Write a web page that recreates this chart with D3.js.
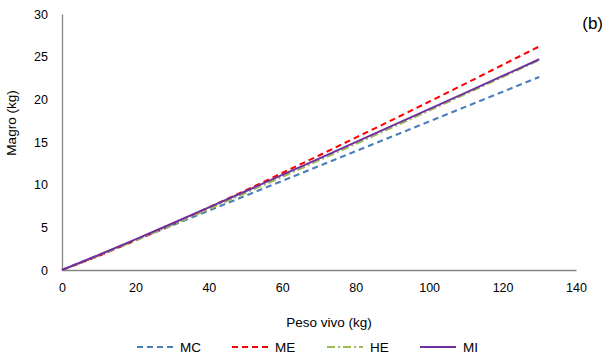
<!DOCTYPE html>
<html><head><meta charset="utf-8">
<script src="https://cdn.jsdelivr.net/npm/d3@7"></script>
<style>body{margin:0;background:#fff}svg{display:block;font-family:"Liberation Sans",Arial,sans-serif}</style>
</head><body><svg id="c" width="610" height="360"></svg>
<script>
const xValues = [0,10,20,30,40,50,60,70,80,90,100,110,120,130];
const MC = [0,1.74,3.48,5.22,6.96,8.70,10.44,12.18,13.92,15.66,17.40,19.14,20.88,22.62];
const ME = [0,1.64,3.47,5.38,7.33,9.33,11.37,13.42,15.51,17.60,19.72,21.86,24.03,26.20];
const HE = [0,1.66,3.45,5.27,7.13,9.02,10.92,12.84,14.77,16.71,18.67,20.64,22.61,24.60];
const MI = [0,1.76,3.59,5.45,7.34,9.23,11.14,13.06,14.99,16.92,18.85,20.79,22.74,24.70];
const xTicks = [0,20,40,60,80,100,120,140];
const yTicks = [0,5,10,15,20,25,30];
const seriesNames = ["MC","ME","HE","MI"];
const seriesColors = ["#4a7ebb","#ff0000","#9bbb59","#7030a0"];
const seriesDash = ["6,4","6,4","8,3,2,3",null];

const svg = d3.select("#c");
const x = d3.scaleLinear().domain([0,140]).range([62,576]);
const y = d3.scaleLinear().domain([0,30]).range([270,14]);

const xAxis = svg.append("g").attr("transform","translate(0,270)")
  .call(d3.axisBottom(x).tickValues(xTicks).tickSize(0).tickPadding(13));
const yAxis = svg.append("g").attr("transform","translate(62,0)")
  .call(d3.axisLeft(y).tickValues(yTicks).tickSize(0).tickPadding(14));
[xAxis,yAxis].forEach(a=>{
  a.select(".domain").attr("stroke","#868686").attr("stroke-width",1.3);
  a.selectAll("text").attr("font-size",12.5).attr("fill","#000").attr("font-family","Liberation Sans, Arial, sans-serif");
});

const data = [MC,ME,HE,MI];
const line = d3.line().x((d,i)=>x(xValues[i])).y(d=>y(d));
data.forEach((s,k)=>{
  svg.append("path").datum(s).attr("d",line).attr("fill","none")
    .attr("stroke",seriesColors[k]).attr("stroke-width",2)
    .attr("stroke-dasharray",seriesDash[k]);
});

svg.append("text").attr("x",329).attr("y",327).attr("text-anchor","middle")
  .attr("font-size",13.5).text("Peso vivo (kg)");
svg.append("text").attr("transform","translate(16,123) rotate(-90)")
  .attr("text-anchor","middle").attr("font-size",13.5).text("Magro (kg)");
svg.append("text").attr("x",603).attr("y",29).attr("text-anchor","end")
  .attr("font-size",17).text("(b)");

const legX = [137,232,327,420];
seriesNames.forEach((n,k)=>{
  svg.append("line").attr("x1",legX[k]).attr("x2",legX[k]+36).attr("y1",347).attr("y2",347)
    .attr("stroke",seriesColors[k]).attr("stroke-width",2).attr("stroke-dasharray",seriesDash[k]);
  svg.append("text").attr("x",legX[k]+43).attr("y",352).attr("font-size",13.5).text(n);
});
</script></body></html>
